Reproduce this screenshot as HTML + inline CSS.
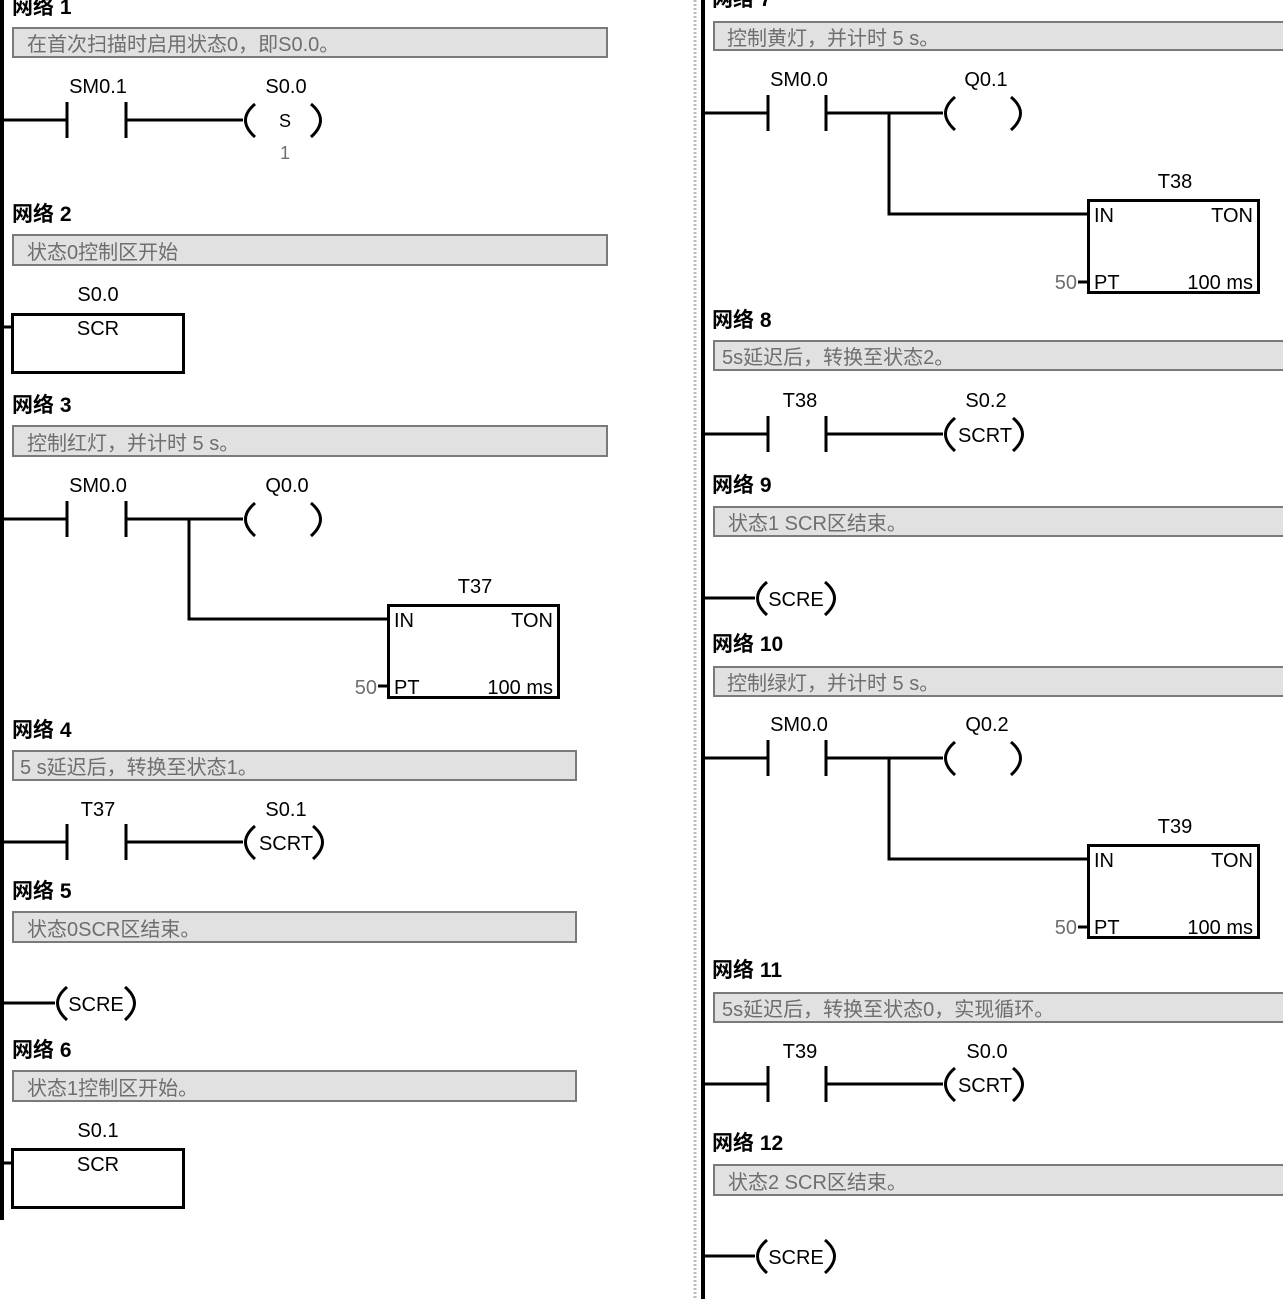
<!DOCTYPE html>
<html><head><meta charset="utf-8"><style>
html,body{margin:0;padding:0;background:#fff;}
svg{display:block;}
text{font-family:"Liberation Sans","Noto Sans CJK SC",sans-serif;font-size:20px;fill:#000;}
.t{font-weight:bold;font-size:21px;}
.c{fill:#6e6e6e;font-size:20px;}
.g{fill:#6e6e6e;}
.m{text-anchor:middle;}
.e{text-anchor:end;}
.cb{fill:#e1e1e1;stroke:#7a7a7a;stroke-width:2;}
.k{stroke:#000;stroke-width:3;fill:none;}
</style></head><body>
<svg width="1283" height="1299" viewBox="0 0 1283 1299" xmlns="http://www.w3.org/2000/svg">
<!-- separator -->
<line x1="695" y1="0" x2="695" y2="1299" stroke="#bbb" stroke-width="3" stroke-dasharray="2,2"/>
<!-- rails -->
<rect x="0" y="0" width="4" height="1220" fill="#000"/>
<rect x="701" y="0" width="4" height="1299" fill="#000"/>

<!-- ===== LEFT ===== -->
<text class="t" x="12" y="14">网络 1</text>
<rect class="cb" x="13" y="28" width="594" height="29"/>
<text class="c" x="27" y="51">在首次扫描时启用状态0，即S0.0。</text>
<path class="k" d="M4 120H67M67 102V138M126 102V138M126 120H243"/>
<path class="k" d="M255 104Q236 120 255 137M311 104Q330 120 311 137"/>
<text class="m" x="98" y="93">SM0.1</text>
<text class="m" x="286" y="93">S0.0</text>
<text class="m" x="285" y="127" style="font-size:18px">S</text>
<text class="m g" x="285" y="159" style="font-size:18px">1</text>

<text class="t" x="12" y="221">网络 2</text>
<rect class="cb" x="13" y="235" width="594" height="30"/>
<text class="c" x="27" y="259">状态0控制区开始</text>
<text class="m" x="98" y="301">S0.0</text>
<rect class="k" x="12.5" y="314.5" width="171" height="58"/>
<path class="k" d="M4 327H12"/>
<text class="m" x="98" y="335">SCR</text>

<text class="t" x="12" y="412">网络 3</text>
<rect class="cb" x="13" y="426" width="594" height="30"/>
<text class="c" x="27" y="450">控制红灯，并计时 5 s。</text>
<path class="k" d="M4 519H67M67 501V537M126 501V537M126 519H243M189 519V619H388"/>
<path class="k" d="M255 503Q236 519 255 536M311 503Q330 519 311 536"/>
<text class="m" x="98" y="492">SM0.0</text>
<text class="m" x="287" y="492">Q0.0</text>
<text class="m" x="475" y="593">T37</text>
<rect class="k" x="388.5" y="605.5" width="170" height="92"/>
<text x="394" y="627">IN</text>
<text class="e" x="553" y="627">TON</text>
<text x="394" y="694">PT</text>
<text class="e" x="553" y="694">100 ms</text>
<text class="g e" x="377" y="694">50</text>
<path class="k" d="M378 686H388"/>

<text class="t" x="12" y="737">网络 4</text>
<rect class="cb" x="13" y="751" width="563" height="29"/>
<text class="c" x="20" y="774">5 s延迟后，转换至状态1。</text>
<path class="k" d="M4 842H67M67 824V860M126 824V860M126 842H243"/>
<path class="k" d="M255 826Q236 842 255 859M313 826Q332 842 313 859"/>
<text class="m" x="98" y="816">T37</text>
<text class="m" x="286" y="816">S0.1</text>
<text class="m" x="286" y="850">SCRT</text>

<text class="t" x="12" y="898">网络 5</text>
<rect class="cb" x="13" y="912" width="563" height="30"/>
<text class="c" x="27" y="936">状态0SCR区结束。</text>
<path class="k" d="M4 1003H55"/>
<path class="k" d="M67 987Q48 1003 67 1020M125 987Q144 1003 125 1020"/>
<text class="m" x="96" y="1011">SCRE</text>

<text class="t" x="12" y="1057">网络 6</text>
<rect class="cb" x="13" y="1071" width="563" height="30"/>
<text class="c" x="27" y="1095">状态1控制区开始。</text>
<text class="m" x="98" y="1137">S0.1</text>
<rect class="k" x="12.5" y="1149.5" width="171" height="58"/>
<path class="k" d="M4 1163H12"/>
<text class="m" x="98" y="1171">SCR</text>

<!-- ===== RIGHT ===== -->
<text class="t" x="712" y="6">网络 7</text>
<rect class="cb" x="714" y="22" width="575" height="28"/>
<text class="c" x="727" y="45">控制黄灯，并计时 5 s。</text>
<path class="k" d="M705 113H768M768 95V131M826 95V131M826 113H943M889 113V214H1088"/>
<path class="k" d="M955 97Q936 113 955 130M1011 97Q1030 113 1011 130"/>
<text class="m" x="799" y="86">SM0.0</text>
<text class="m" x="986" y="86">Q0.1</text>
<text class="m" x="1175" y="188">T38</text>
<rect class="k" x="1088.5" y="200.5" width="170" height="92"/>
<text x="1094" y="222">IN</text>
<text class="e" x="1253" y="222">TON</text>
<text x="1094" y="289">PT</text>
<text class="e" x="1253" y="289">100 ms</text>
<text class="g e" x="1077" y="289">50</text>
<path class="k" d="M1078 282H1088"/>

<text class="t" x="712" y="327">网络 8</text>
<rect class="cb" x="714" y="341" width="575" height="29"/>
<text class="c" x="722" y="364">5s延迟后，转换至状态2。</text>
<path class="k" d="M705 434H768M768 416V452M826 416V452M826 434H943"/>
<path class="k" d="M955 418Q936 434 955 451M1013 418Q1032 434 1013 451"/>
<text class="m" x="800" y="407">T38</text>
<text class="m" x="986" y="407">S0.2</text>
<text class="m" x="985" y="442">SCRT</text>

<text class="t" x="712" y="492">网络 9</text>
<rect class="cb" x="714" y="507" width="575" height="29"/>
<text class="c" x="728" y="530">状态1 SCR区结束。</text>
<path class="k" d="M705 598H755"/>
<path class="k" d="M767 582Q748 598 767 615M825 582Q844 598 825 615"/>
<text class="m" x="796" y="606">SCRE</text>

<text class="t" x="712" y="651">网络 10</text>
<rect class="cb" x="714" y="667" width="575" height="29"/>
<text class="c" x="727" y="690">控制绿灯，并计时 5 s。</text>
<path class="k" d="M705 758H768M768 740V776M826 740V776M826 758H943M889 758V859H1088"/>
<path class="k" d="M955 742Q936 758 955 775M1011 742Q1030 758 1011 775"/>
<text class="m" x="799" y="731">SM0.0</text>
<text class="m" x="987" y="731">Q0.2</text>
<text class="m" x="1175" y="833">T39</text>
<rect class="k" x="1088.5" y="845.5" width="170" height="92"/>
<text x="1094" y="867">IN</text>
<text class="e" x="1253" y="867">TON</text>
<text x="1094" y="934">PT</text>
<text class="e" x="1253" y="934">100 ms</text>
<text class="g e" x="1077" y="934">50</text>
<path class="k" d="M1078 927H1088"/>

<text class="t" x="712" y="977">网络 11</text>
<rect class="cb" x="714" y="993" width="575" height="29"/>
<text class="c" x="722" y="1016">5s延迟后，转换至状态0，实现循环。</text>
<path class="k" d="M705 1084H768M768 1066V1102M826 1066V1102M826 1084H943"/>
<path class="k" d="M955 1068Q936 1084 955 1101M1013 1068Q1032 1084 1013 1101"/>
<text class="m" x="800" y="1058">T39</text>
<text class="m" x="987" y="1058">S0.0</text>
<text class="m" x="985" y="1092">SCRT</text>

<text class="t" x="712" y="1150">网络 12</text>
<rect class="cb" x="714" y="1165" width="575" height="30"/>
<text class="c" x="728" y="1189">状态2 SCR区结束。</text>
<path class="k" d="M705 1256H755"/>
<path class="k" d="M767 1240Q748 1256 767 1273M825 1240Q844 1256 825 1273"/>
<text class="m" x="796" y="1264">SCRE</text>
</svg>
</body></html>
